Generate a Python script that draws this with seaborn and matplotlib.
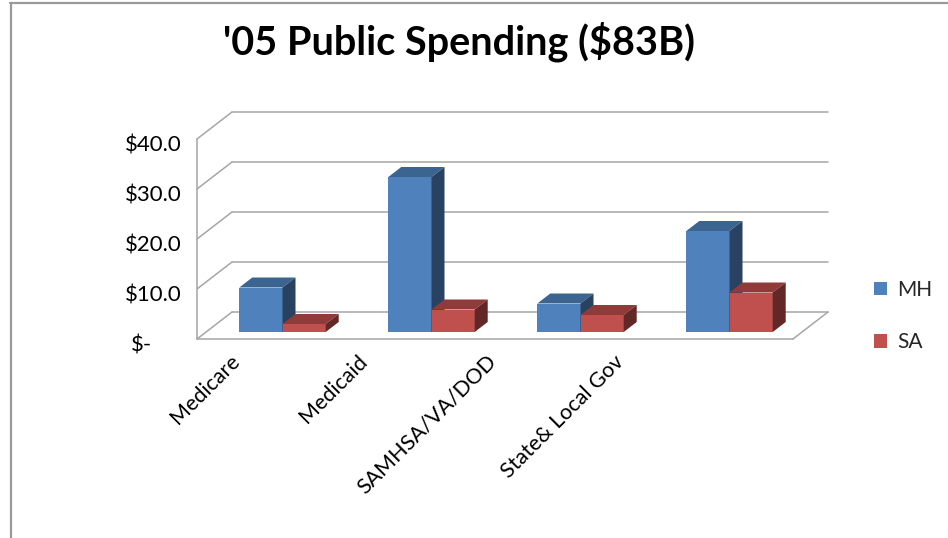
import numpy as np
import pandas as pd
import matplotlib
matplotlib.use("Agg")
import matplotlib.pyplot as plt
import seaborn as sns
from matplotlib.patches import Polygon
from matplotlib.lines import Line2D
from matplotlib.transforms import ScaledTranslation

# ---- data ----
categories = ["Medicare", "Medicaid", "SAMHSA/VA/DOD", "State& Local Gov"]
series = ["MH", "SA"]
mh_values = [8.9, 31.0, 5.7, 20.2]
sa_values = [1.6, 4.5, 3.4, 7.9]
y_ticks = [0, 10, 20, 30, 40]
y_tick_labels = ["$-", "$10.0", "$20.0", "$30.0", "$40.0"]
title = "'05 Public Spending ($83B)"

df = pd.DataFrame({
    "category": categories * 2,
    "value": mh_values + sa_values,
    "series": [series[0]] * len(categories) + [series[1]] * len(categories),
})

sns.set_theme(style="white")
plt.rcParams["font.family"] = ["Lato", "DejaVu Sans"]

W, H = 948, 538
fig = plt.figure(figsize=(W / 100, H / 100), dpi=100)
# axes = plane of the bars' front faces
ax = fig.add_axes([208 / W, (H - 332) / H, 596 / W, 200 / H])

front_cols = {"MH": "#4F81BD", "SA": "#C0504D"}
top_cols = {"MH": "#3C6491", "SA": "#8F3B39"}
side_cols = {"MH": "#2A4262", "SA": "#622827"}

sns.barplot(data=df, x="category", y="value", hue="series", hue_order=series,
            palette=front_cols, width=0.58, saturation=1, linewidth=0, ax=ax)
ax.set_xlim(-0.5, 3.5)
ax.set_ylim(0, 40)
for s in ax.spines.values():
    s.set_visible(False)
ax.grid(False)
ax.set_xlabel("")
ax.set_ylabel("")

# pixel -> data unit factors
px_x = 596 / 4.0
px_y = 200 / 40.0

# 3D depth of bars
bdx, bdy = 13 / px_x, 10 / px_y
for h, cont in enumerate(ax.containers):
    name = series[h]
    for bar in cont:
        x0, w, y1 = bar.get_x(), bar.get_width(), bar.get_height()
        bar.set_zorder(3 + h)
        top = [(x0, y1), (x0 + w, y1), (x0 + w + bdx, y1 + bdy), (x0 + bdx, y1 + bdy)]
        side = [(x0 + w, 0), (x0 + w + bdx, bdy), (x0 + w + bdx, y1 + bdy), (x0 + w, y1)]
        ax.add_patch(Polygon(top, closed=True, facecolor=top_cols[name], edgecolor="none",
                             zorder=3 + h, clip_on=False))
        ax.add_patch(Polygon(side, closed=True, facecolor=side_cols[name], edgecolor="none",
                             zorder=3 + h, clip_on=False))

# walls and floor
grid_col = "#A6A6A6"
xl, xr = ax.get_xlim()
fx, fy = -11 / px_x, -7 / px_y
bx, by = 24 / px_x, 20 / px_y
kw = dict(color=grid_col, lw=1.1, zorder=1, clip_on=False)
ax.plot([xl + fx, xl + fx], [y_ticks[0] + fy, y_ticks[-1] + fy], **kw)
for v in y_ticks:
    ax.plot([xl + fx, xl + bx], [v + fy, v + by], **kw)
    ax.plot([xl + bx, xr + bx], [v + by, v + by], **kw)
ax.plot([xl + fx, xr + fx], [fy, fy], **kw)
ax.plot([xr + fx, xr + bx], [fy, by], **kw)

# y tick labels on the front wall
ax.set_yticks(y_ticks)
ax.set_yticklabels(y_tick_labels)
ax.tick_params(axis="y", length=0, pad=18.7, labelsize=16, labelcolor="black")
for lbl in ax.get_yticklabels():
    dx = -30 / 100 if lbl.get_text() == "$-" else 0
    lbl.set_transform(lbl.get_transform() + ScaledTranslation(dx, -11.5 / 100, fig.dpi_scale_trans))

# x tick labels
label_pos = np.arange(len(categories)) * 0.86 - 0.31
ax.set_xticks(label_pos)
ax.set_xticklabels(categories)
ax.tick_params(axis="x", length=0, pad=19, labelsize=15.5, labelcolor="black")
for lbl in ax.get_xticklabels():
    lbl.set_rotation(45)
    lbl.set_ha("right")
    lbl.set_va("center")
    lbl.set_rotation_mode("anchor")

# legend
handles, labels = ax.get_legend_handles_labels()
if ax.get_legend() is not None:
    ax.get_legend().remove()
fig.legend(handles, labels, loc="upper left", bbox_to_anchor=(874 / W, 1 - 280 / H),
           bbox_transform=fig.transFigure, frameon=False, borderpad=0, borderaxespad=0,
           handlelength=0.62, handleheight=0.62, handletextpad=0.5, labelspacing=1.55,
           fontsize=15)

# title
fig.text(459 / W, 1 - 55 / H, title, ha="center", va="baseline", fontsize=28.5,
         fontweight="bold", color="black")

# outer frame (top and left only)
fig.add_artist(Line2D([10 / W, 1], [1 - 3 / H, 1 - 3 / H], transform=fig.transFigure,
                      color="#9A9A9A", lw=1.6))
fig.add_artist(Line2D([10.5 / W, 10.5 / W], [0, 1 - 3 / H], transform=fig.transFigure,
                      color="#9A9A9A", lw=1.6))

fig.savefig("out.png", dpi=100)
